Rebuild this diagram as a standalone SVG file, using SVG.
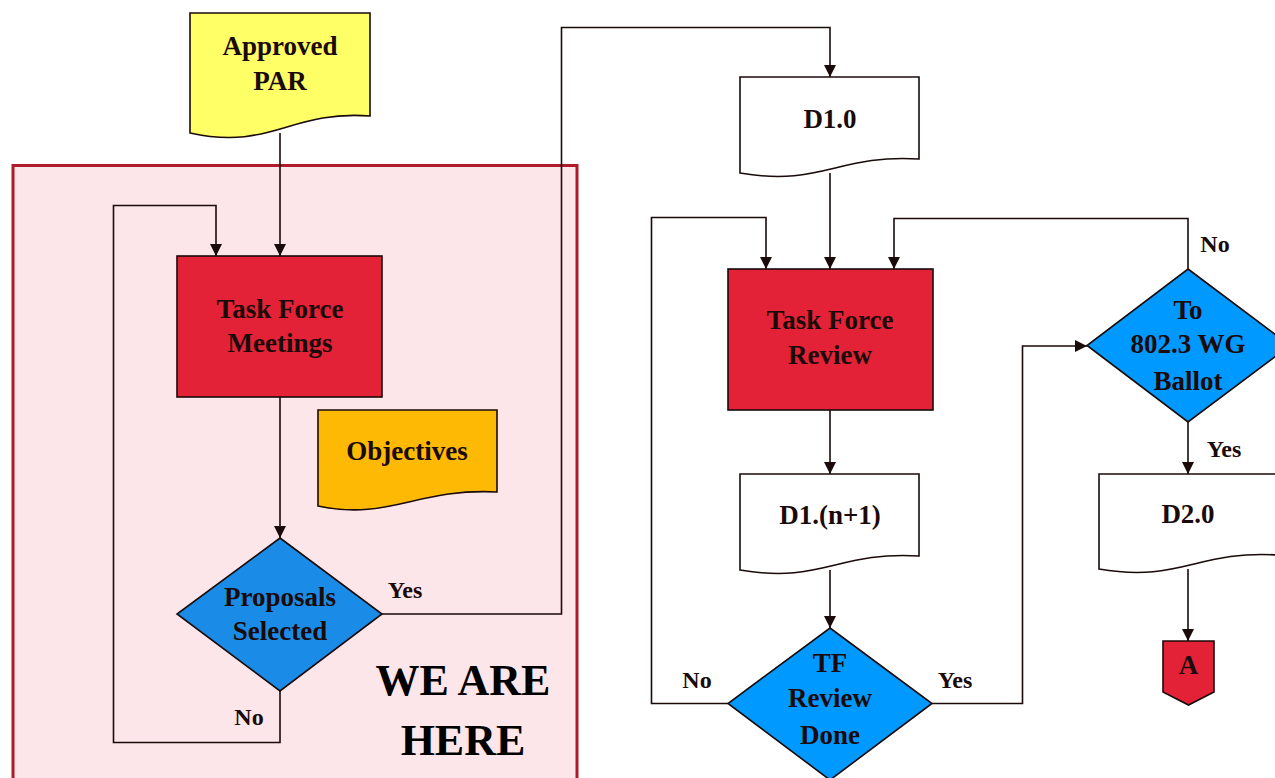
<svg xmlns="http://www.w3.org/2000/svg" width="1275" height="778" viewBox="0 0 1275 778">
<defs>
<marker id="arr" markerUnits="userSpaceOnUse" markerWidth="12" markerHeight="12" refX="12" refY="6" orient="auto">
<path d="M0,0 L12,6 L0,12 Z" fill="#1a0a0a"/>
</marker>
<style>
.ln{fill:none;stroke:#1a0a0a;stroke-width:1.6}
.sh{stroke:#1a0a0a;stroke-width:1.6}
.t{font-family:"Liberation Serif","Times New Roman",serif;font-weight:bold;font-size:27px;fill:#1a0a0a;text-anchor:middle}
.lb{font-family:"Liberation Serif","Times New Roman",serif;font-weight:bold;font-size:24px;fill:#1a0a0a;text-anchor:middle}
.big{font-family:"Liberation Serif","Times New Roman",serif;font-weight:bold;font-size:44px;fill:#000;text-anchor:middle}
</style>
</defs>
<rect width="1275" height="778" fill="#fff"/>
<g id="region">
<rect x="13" y="165.5" width="564" height="640" fill="#FCE6E9" stroke="#AE1C2B" stroke-width="3"/>
</g>
<g id="connectors">
<path class="ln" d="M280,133 V256" marker-end="url(#arr)"/>
<path class="ln" d="M280,397 V538" marker-end="url(#arr)"/>
<path class="ln" d="M280,691 V742.5 H113.5 V205.5 H216 V256" marker-end="url(#arr)"/>
<path class="ln" d="M382,614 H561.5 V27.5 H830 V77" marker-end="url(#arr)"/>
<path class="ln" d="M830,173 V269" marker-end="url(#arr)"/>
<path class="ln" d="M830,410 V474" marker-end="url(#arr)"/>
<path class="ln" d="M830,570 V628" marker-end="url(#arr)"/>
<path class="ln" d="M728,703.5 H651.5 V217.5 H766 V269" marker-end="url(#arr)"/>
<path class="ln" d="M932,703.5 H1022.5 V346 H1087" marker-end="url(#arr)"/>
<path class="ln" d="M1188,269 V218.5 H894 V269" marker-end="url(#arr)"/>
<path class="ln" d="M1188,422 V474" marker-end="url(#arr)"/>
<path class="ln" d="M1188,569 V641" marker-end="url(#arr)"/>
<text class="lb" x="405" y="598">Yes</text>
<text class="lb" x="249" y="725">No</text>
<text class="lb" x="697" y="688">No</text>
<text class="lb" x="955" y="688">Yes</text>
<text class="lb" x="1215" y="252">No</text>
<text class="lb" x="1224" y="457">Yes</text>
</g>
<g id="approved-par">
<path class="sh" fill="#FFFF66" d="M190,13 H370 V116 C289,110 271,151 190,133 Z"/>
<text class="t" x="280" y="55">Approved</text>
<text class="t" x="280" y="90">PAR</text>
</g>
<g id="task-force-meetings">
<rect class="sh" x="177" y="256" width="205" height="141" fill="#E32237"/>
<text class="t" x="280" y="318">Task Force</text>
<text class="t" x="280" y="352">Meetings</text>
</g>
<g id="objectives">
<path class="sh" fill="#FDB904" d="M318,410 H497 V492 C416,488 389,521 318,506 Z"/>
<text class="t" x="407" y="460">Objectives</text>
</g>
<g id="proposals-selected">
<path class="sh" fill="#1A8CE8" d="M280,538 L382,614 L280,691 L177,614 Z"/>
<text class="t" x="280" y="606">Proposals</text>
<text class="t" x="280" y="640">Selected</text>
</g>
<g id="we-are-here">
<text class="big" x="463" y="695">WE ARE</text>
<text class="big" x="463" y="755">HERE</text>
</g>
<g id="d1-0">
<path class="sh" fill="#fff" d="M740,77 H919 V159 C838,154 821,187 740,173 Z"/>
<text class="t" x="830" y="128">D1.0</text>
</g>
<g id="task-force-review">
<rect class="sh" x="728" y="269" width="205" height="141" fill="#E32237"/>
<text class="t" x="830" y="329">Task Force</text>
<text class="t" x="830" y="364">Review</text>
</g>
<g id="d1-n1">
<path class="sh" fill="#fff" d="M740,474 H919 V556 C838,551 821,584 740,570 Z"/>
<text class="t" x="830" y="524">D1.(n+1)</text>
</g>
<g id="tf-review-done">
<path class="sh" fill="#0099FF" d="M830,628 L932,703.5 L830,780 L728,703.5 Z"/>
<text class="t" x="830" y="672">TF</text>
<text class="t" x="830" y="707">Review</text>
<text class="t" x="830" y="744">Done</text>
</g>
<g id="to-wg-ballot">
<path class="sh" fill="#0099FF" d="M1188,269 L1290,345.5 L1188,422 L1087,345.5 Z"/>
<text class="t" x="1188" y="319">To</text>
<text class="t" x="1188" y="353">802.3 WG</text>
<text class="t" x="1188" y="390">Ballot</text>
</g>
<g id="d2-0">
<path class="sh" fill="#fff" d="M1099,474 H1278 V555 C1197,550 1180,583 1099,569 Z"/>
<text class="t" x="1188" y="523">D2.0</text>
</g>
<g id="connector-a">
<path class="sh" fill="#E32237" d="M1163,641 H1214 V692 L1188.5,705 L1163,692 Z"/>
<text class="t" x="1188.5" y="674">A</text>
</g>
</svg>
